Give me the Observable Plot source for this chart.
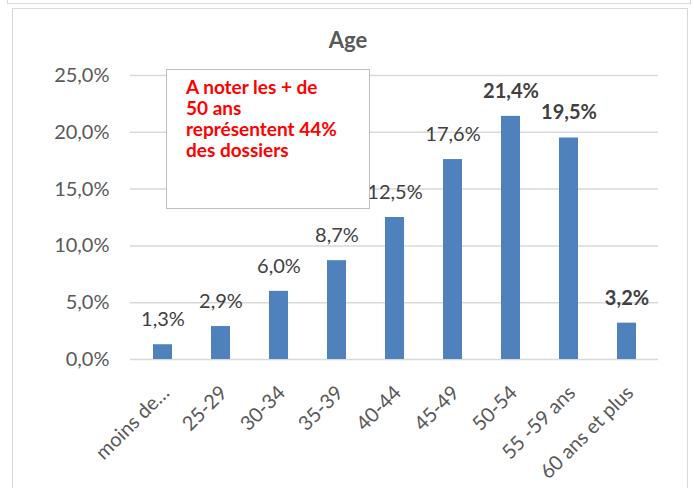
<!DOCTYPE html>
<html>
<head>
<meta charset="utf-8">
<script src="https://cdn.jsdelivr.net/npm/d3@7"></script>
<script src="https://cdn.jsdelivr.net/npm/@observablehq/plot@0.6"></script>
<style>
  html, body { margin: 0; padding: 0; background: #fff; }
  #wrap { position: relative; width: 694px; height: 488px; overflow: hidden; font-family: Lato, sans-serif; }
  #outer { position: absolute; left: 7px; top: -12px; width: 684px; height: 16px; border: 1.5px solid #d9d9d9; box-sizing: border-box; }
  #inner { position: absolute; left: 12px; top: 8px; width: 676px; height: 520px; border: 1.5px solid #d9d9d9; box-sizing: border-box; }
  #chart { position: absolute; left: 0; top: 0; }
  #title { position: absolute; left: 248px; width: 200px; top: 26px; text-align: center; font-weight: bold; font-size: 22px; color: #595959; }
  #note { position: absolute; left: 166px; top: 69px; width: 204px; height: 140px; box-sizing: border-box; border: 1.5px solid #bfbfbf; background: #fff;
          padding: 6px 0 0 19px; color: #ff0000; font-weight: bold; font-size: 19px; line-height: 21px; }
</style>
</head>
<body>
<div id="wrap">
  <div id="outer"></div>
  <div id="inner"></div>
  <div id="chart"></div>
  <div id="title"></div>
  <div id="note"></div>
</div>
<script>
const categories = ["moins de…", "25-29", "30-34", "35-39", "40-44", "45-49", "50-54", "55 -59 ans", "60 ans et plus"];
const values = [1.3, 2.9, 6.0, 8.7, 12.5, 17.6, 21.4, 19.5, 3.2];
const labelBold = [false, false, false, false, false, false, true, true, true];
const yTicks = [0, 5, 10, 15, 20, 25];
const titleText = "Age";
const noteLines = ["A noter les + de", "50 ans", "représentent 44%", "des dossiers"];

const fmt = d => d.toFixed(1).replace(".", ",") + "%";
const data = categories.map((c, i) => ({cat: c, v: values[i], bold: labelBold[i]}));

const chart = Plot.plot({
  width: 694,
  height: 488,
  marginLeft: 130,
  marginRight: 36,
  marginTop: 75,
  marginBottom: 129,
  style: {fontFamily: "Lato, sans-serif", fontSize: "20px", color: "#595959", background: "transparent"},
  x: {domain: categories, paddingInner: 0.68, paddingOuter: 0.34, label: null},
  y: {domain: [0, 25], label: null},
  marks: [
    Plot.ruleY(yTicks, {stroke: "#d9d9d9", strokeWidth: 1.5}),
    Plot.barY(data, {x: "cat", y: "v", fill: "#4f81bd"}),
    Plot.text(data.filter(d => !d.bold), {x: "cat", y: "v", text: d => fmt(d.v), dy: -25, fill: "#404040", fontSize: 20}),
    Plot.text(data.filter(d => d.bold), {x: "cat", y: "v", text: d => fmt(d.v), dy: -25, fill: "#404040", fontSize: 20, fontWeight: "bold"}),
    Plot.axisY({ticks: yTicks, tickFormat: fmt, tickSize: 0, tickPadding: 21, label: null}),
    Plot.axisX({tickRotate: -45, tickSize: 0, tickPadding: 8, dy: 22, dx: 3, label: null})
  ]
});
document.getElementById("chart").appendChild(chart);
document.getElementById("title").textContent = titleText;
document.getElementById("note").innerHTML = noteLines.map(s => s.replace(/&/g, "&amp;").replace(/</g, "&lt;")).join("<br>");
</script>
</body>
</html>
